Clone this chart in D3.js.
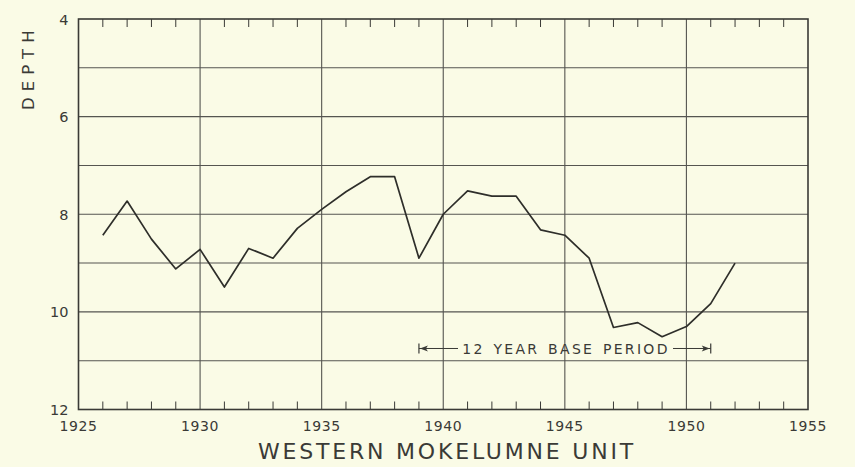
<!DOCTYPE html>
<html><head><meta charset="utf-8">
<script src="https://cdn.jsdelivr.net/npm/d3@7"></script>
<style>
html,body{margin:0;padding:0;background:#fafbe6;}
svg{display:block;}
text{font-family:"DejaVu Sans",sans-serif;fill:#3a3a36;}
</style></head>
<body>
<svg id="chart" width="855" height="467"></svg>
<script>
const years = [1926,1927,1928,1929,1930,1931,1932,1933,1934,1935,1936,1937,1938,1939,1940,1941,1942,1943,1944,1945,1946,1947,1948,1949,1950,1951,1952];
const depth = [8.43,7.73,8.51,9.12,8.72,9.49,8.70,8.90,8.29,7.90,7.54,7.23,7.23,8.90,8.00,7.52,7.63,7.63,8.32,8.43,8.90,10.32,10.22,10.51,10.30,9.83,9.00];
const xTickLabels = [1925,1930,1935,1940,1945,1950,1955];
const yTickLabels = [4,6,8,10,12];
const basePeriod = [1939,1951];
const basePeriodLabel = "12 YEAR BASE PERIOD";
const xTitle = "WESTERN MOKELUMNE UNIT";
const yTitle = "DEPTH";

const svg = d3.select("#chart");
const ink = "#3a3a36";
const L=78.5, R=808, T=19, B=409.5;
const x = d3.scaleLinear().domain([1925,1955]).range([L,R]);
const y = d3.scaleLinear().domain([4,12]).range([T,B]);

// horizontal grid
svg.append("g").selectAll("line").data(d3.range(5,12)).join("line")
  .attr("x1",L).attr("x2",R).attr("y1",d=>y(d)).attr("y2",d=>y(d))
  .attr("stroke","#555550").attr("stroke-width",1.1);
// vertical grid
svg.append("g").selectAll("line").data(d3.range(1930,1955,5)).join("line")
  .attr("y1",T).attr("y2",B).attr("x1",d=>x(d)).attr("x2",d=>x(d))
  .attr("stroke","#555550").attr("stroke-width",1.1);
// minor year ticks top and bottom
const minor = d3.range(1926,1955).filter(d=>d%5!==0);
svg.append("g").selectAll("line").data(minor).join("line")
  .attr("x1",d=>x(d)).attr("x2",d=>x(d)).attr("y1",B).attr("y2",B-8)
  .attr("stroke",ink).attr("stroke-width",1);
svg.append("g").selectAll("line").data(minor).join("line")
  .attr("x1",d=>x(d)).attr("x2",d=>x(d)).attr("y1",T).attr("y2",T+8)
  .attr("stroke",ink).attr("stroke-width",1);
// frame
svg.append("rect").attr("x",L).attr("y",T).attr("width",R-L).attr("height",B-T)
  .attr("fill","none").attr("stroke",ink).attr("stroke-width",1.6);

// axis labels
svg.append("g").selectAll("text").data(xTickLabels).join("text")
  .attr("x",d=>x(d)).attr("y",B+21.5).attr("text-anchor","middle")
  .attr("font-size",14).attr("letter-spacing",0.6).text(d=>d);
svg.append("g").selectAll("text").data(yTickLabels).join("text")
  .attr("x",L-10).attr("y",d=>y(d)+5.5).attr("text-anchor","end")
  .attr("font-size",14.5).text(d=>d);

// titles
svg.append("text").attr("x",447).attr("y",459).attr("text-anchor","middle")
  .attr("font-size",22).attr("letter-spacing",2.8).text(xTitle);
svg.append("text").attr("transform","translate(34,110) rotate(-90)")
  .attr("text-anchor","start").attr("font-size",16.5).attr("letter-spacing",6).text(yTitle);

// data line
const line = d3.line().x((d,i)=>x(years[i])).y(d=>y(d));
svg.append("path").datum(depth).attr("d",line).attr("fill","none")
  .attr("stroke","#2e2e2a").attr("stroke-width",1.7).attr("stroke-linejoin","round");

// base period annotation
const ay = y(10.75);
const x0 = x(basePeriod[0]), x1 = x(basePeriod[1]);
const ann = svg.append("g");
ann.append("text").attr("x",566).attr("y",ay+5.5).attr("text-anchor","middle")
  .attr("font-size",14).attr("letter-spacing",2.3).attr("word-spacing",2).text(basePeriodLabel);
const tx0 = 461, tx1 = 670;
ann.append("line").attr("x1",x0).attr("x2",tx0-3).attr("y1",ay).attr("y2",ay).attr("stroke",ink).attr("stroke-width",1);
ann.append("line").attr("x1",tx1+3).attr("x2",x1).attr("y1",ay).attr("y2",ay).attr("stroke",ink).attr("stroke-width",1);
ann.append("line").attr("x1",x0).attr("x2",x0).attr("y1",ay-5).attr("y2",ay+5).attr("stroke",ink).attr("stroke-width",1.2);
ann.append("line").attr("x1",x1).attr("x2",x1).attr("y1",ay-5).attr("y2",ay+5).attr("stroke",ink).attr("stroke-width",1.2);
ann.append("path").attr("d",`M${x0+1},${ay} L${x0+9},${ay-3} L${x0+7},${ay} L${x0+9},${ay+3} Z`).attr("fill",ink);
ann.append("path").attr("d",`M${x1-1},${ay} L${x1-9},${ay-3} L${x1-7},${ay} L${x1-9},${ay+3} Z`).attr("fill",ink);
</script>
</body></html>
